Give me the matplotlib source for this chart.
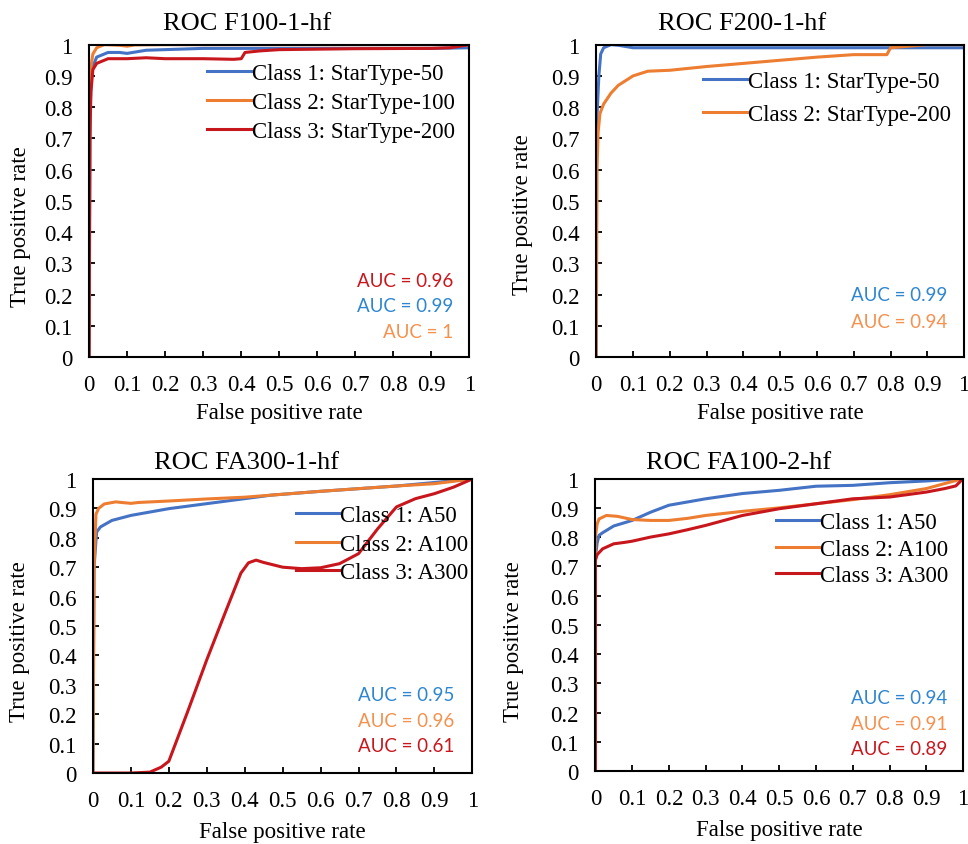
import matplotlib.pyplot as plt

plt.rcParams["font.family"] = ["Liberation Serif", "DejaVu Serif"]

BLUE = "#4472C4"
ORANGE = "#ED7D31"
RED = "#C8161D"
AUC_BLUE = "#2E86D1"
AUC_ORANGE = "#F4914E"
AUC_RED = "#C8161D"

# ---------------- ROC F100-1-hf ----------------
f100_blue_x = [0, 0.003, 0.006, 0.01, 0.02, 0.05, 0.08, 0.1, 0.15, 0.3, 0.6, 0.9, 1.0]
f100_blue_y = [0, 0.8, 0.9, 0.93, 0.96, 0.975, 0.975, 0.972, 0.982, 0.988, 0.988, 0.988, 0.99]
f100_orange_x = [0, 0.002, 0.005, 0.01, 0.02, 0.04, 0.08, 0.1, 0.12, 0.2, 1.0]
f100_orange_y = [0, 0.8, 0.93, 0.97, 0.99, 1.0, 0.998, 0.995, 0.999, 1.0, 1.0]
f100_red_x = [0, 0.002, 0.005, 0.01, 0.02, 0.05, 0.1, 0.15, 0.2, 0.3, 0.38, 0.4,
              0.41, 0.45, 0.5, 0.7, 0.9, 0.95, 1.0]
f100_red_y = [0, 0.7, 0.85, 0.92, 0.94, 0.955, 0.955, 0.958, 0.955, 0.955, 0.953, 0.955,
              0.975, 0.98, 0.984, 0.987, 0.988, 0.99, 1.0]
f100_labels = ["Class 1: StarType-50", "Class 2: StarType-100", "Class 3: StarType-200"]
f100_auc = ["AUC = 0.96", "AUC = 0.99", "AUC = 1"]

# ---------------- ROC F200-1-hf ----------------
f200_blue_x = [0, 0, 0.003, 0.007, 0.012, 0.02, 0.04, 0.06, 0.1, 0.2, 1.0]
f200_blue_y = [0, 0.72, 0.8, 0.9, 0.97, 0.99, 1.0, 0.998, 0.99, 0.99, 0.99]
f200_orange_x = [0, 0.002, 0.005, 0.01, 0.02, 0.04, 0.06, 0.1, 0.14, 0.2, 0.3, 0.4,
                 0.5, 0.6, 0.7, 0.79, 0.8, 0.85, 0.9, 1.0]
f200_orange_y = [0, 0.6, 0.72, 0.78, 0.81, 0.845, 0.87, 0.9, 0.915, 0.918, 0.93, 0.94,
                 0.95, 0.96, 0.968, 0.968, 0.99, 0.995, 1.0, 1.0]
f200_labels = ["Class 1: StarType-50", "Class 2: StarType-200"]
f200_auc = ["AUC = 0.99", "AUC = 0.94"]

# ---------------- ROC FA300-1-hf ----------------
fa300_blue_x = [0, 0.003, 0.008, 0.01, 0.02, 0.05, 0.1, 0.2, 0.3, 0.4, 0.47, 0.6, 0.8, 1.0]
fa300_blue_y = [0, 0.7, 0.79, 0.82, 0.837, 0.859, 0.876, 0.899, 0.916, 0.933, 0.945, 0.958, 0.976, 1.0]
fa300_orange_x = [0, 0.003, 0.008, 0.015, 0.03, 0.06, 0.1, 0.12, 0.2, 0.3, 0.4, 0.5,
                  0.6, 0.7, 0.8, 0.9, 1.0]
fa300_orange_y = [0, 0.7, 0.88, 0.9, 0.915, 0.922, 0.917, 0.92, 0.925, 0.932, 0.938, 0.948,
                  0.958, 0.967, 0.976, 0.984, 1.0]
fa300_red_x = [0, 0.1, 0.15, 0.18, 0.2, 0.25, 0.3, 0.35, 0.39, 0.41, 0.43, 0.45, 0.5,
               0.55, 0.6, 0.65, 0.7, 0.75, 0.8, 0.85, 0.9, 0.95, 1.0]
fa300_red_y = [0, 0, 0.003, 0.02, 0.04, 0.21, 0.385, 0.55, 0.68, 0.715, 0.724, 0.716, 0.7,
               0.695, 0.698, 0.712, 0.746, 0.83, 0.905, 0.933, 0.95, 0.972, 1.0]
fa300_labels = ["Class 1: A50", "Class 2: A100", "Class 3: A300"]
fa300_auc = ["AUC = 0.95", "AUC = 0.96", "AUC = 0.61"]

# ---------------- ROC FA100-2-hf ----------------
fa100_blue_x = [0, 0, 0.005, 0.01, 0.02, 0.05, 0.1, 0.15, 0.2, 0.25, 0.3, 0.4, 0.5,
                0.6, 0.7, 0.8, 0.9, 1.0]
fa100_blue_y = [0, 0.73, 0.78, 0.806, 0.815, 0.838, 0.857, 0.885, 0.909, 0.92, 0.931, 0.949,
                0.96, 0.974, 0.977, 0.986, 0.992, 1.0]
fa100_orange_x = [0, 0, 0.005, 0.01, 0.03, 0.06, 0.1, 0.15, 0.2, 0.25, 0.3, 0.4, 0.5,
                  0.6, 0.7, 0.8, 0.9, 0.97, 1.0]
fa100_orange_y = [0, 0.8, 0.845, 0.862, 0.874, 0.871, 0.86, 0.857, 0.857, 0.864, 0.874, 0.888,
                  0.9, 0.914, 0.928, 0.945, 0.966, 0.99, 1.0]
fa100_red_x = [0, 0, 0.005, 0.02, 0.05, 0.08, 0.1, 0.15, 0.2, 0.25, 0.3, 0.4, 0.5,
               0.6, 0.7, 0.8, 0.9, 0.95, 0.98, 1.0]
fa100_red_y = [0, 0.72, 0.74, 0.76, 0.777, 0.782, 0.786, 0.8, 0.811, 0.825, 0.84, 0.874,
               0.897, 0.914, 0.931, 0.937, 0.954, 0.966, 0.975, 1.0]
fa100_labels = ["Class 1: A50", "Class 2: A100", "Class 3: A300"]
fa100_auc = ["AUC = 0.94", "AUC = 0.91", "AUC = 0.89"]

ticks = [i / 10 for i in range(11)]
tick_labels = ["0"] + [f"{t:.1f}" for t in ticks[1:-1]] + ["1"]


def style_axes(ax, title, title_x, title_y, ylab_x, ylab_y, xlab_y):
    ax.set_xlim(0, 1)
    ax.set_ylim(0, 1)
    ax.set_xticks(ticks)
    ax.set_yticks(ticks)
    ax.set_xticklabels(tick_labels)
    ax.set_yticklabels(tick_labels)
    ax.tick_params(axis="x", direction="in", length=4.5, width=1.3, labelsize=16.5, pad=12)
    ax.tick_params(axis="y", direction="in", length=4.5, width=1.3, labelsize=16.5, pad=12)
    for sp in ax.spines.values():
        sp.set_linewidth(1.5)
        sp.set_color("black")
    ax.text(title_x, title_y, title, transform=ax.transAxes, ha="center",
            va="center", fontsize=19)
    ax.text(ylab_x, ylab_y, "True positive rate", transform=ax.transAxes,
            rotation=90, ha="center", va="center", fontsize=16.5)
    ax.text(0.5, xlab_y, "False positive rate", transform=ax.transAxes,
            ha="center", va="center", fontsize=16.5)


def add_auc(ax, texts, colors, x, ys):
    for t, c, y in zip(texts, colors, ys):
        ax.text(x, y, t, transform=ax.transAxes, ha="right", va="center",
                fontsize=13.5, color=c, family=["Lato", "DejaVu Sans"])


def add_legend(ax, x, y, spacing):
    ax.legend(loc="upper left", bbox_to_anchor=(x, y), frameon=False,
              fontsize=16.5, handlelength=1.9, handletextpad=0.05,
              borderpad=0, borderaxespad=0, labelspacing=spacing)


fig = plt.figure(figsize=(9.68, 8.45), dpi=100)

lw = 2.2

# Panel 1
ax1 = fig.add_axes([0.092, 0.576, 0.393, 0.370])
ax1.plot(f100_blue_x, f100_blue_y, color=BLUE, lw=lw, label=f100_labels[0])
ax1.plot(f100_orange_x, f100_orange_y, color=ORANGE, lw=lw, label=f100_labels[1])
ax1.plot(f100_red_x, f100_red_y, color=RED, lw=lw, label=f100_labels[2])
style_axes(ax1, "ROC F100-1-hf", 0.416, 1.07, -0.18, 0.42, -0.176)
add_legend(ax1, 0.31, 0.94, 0.34)
add_auc(ax1, f100_auc, [AUC_RED, AUC_BLUE, AUC_ORANGE], 0.958, [0.246, 0.166, 0.083])

# Panel 2
ax2 = fig.add_axes([0.616, 0.576, 0.380, 0.370])
ax2.plot(f200_blue_x, f200_blue_y, color=BLUE, lw=lw, label=f200_labels[0])
ax2.plot(f200_orange_x, f200_orange_y, color=ORANGE, lw=lw, label=f200_labels[1])
style_axes(ax2, "ROC F200-1-hf", 0.397, 1.07, -0.2, 0.46, -0.176)
add_legend(ax2, 0.29, 0.917, 0.53)
add_auc(ax2, f200_auc, [AUC_BLUE, AUC_ORANGE], 0.954, [0.201, 0.115])

# Panel 3
ax3 = fig.add_axes([0.096, 0.084, 0.392, 0.348])
ax3.plot(fa300_blue_x, fa300_blue_y, color=BLUE, lw=lw, label=fa300_labels[0])
ax3.plot(fa300_orange_x, fa300_orange_y, color=ORANGE, lw=lw, label=fa300_labels[1])
ax3.plot(fa300_red_x, fa300_red_y, color=RED, lw=lw, label=fa300_labels[2])
style_axes(ax3, "ROC FA300-1-hf", 0.406, 1.058, -0.193, 0.45, -0.2)
add_legend(ax3, 0.534, 0.91, 0.31)
add_auc(ax3, fa300_auc, [AUC_BLUE, AUC_ORANGE, AUC_RED], 0.952, [0.266, 0.178, 0.093])

# Panel 4
ax4 = fig.add_axes([0.615, 0.0864, 0.380, 0.346])
ax4.plot(fa100_blue_x, fa100_blue_y, color=BLUE, lw=lw, label=fa100_labels[0])
ax4.plot(fa100_orange_x, fa100_orange_y, color=ORANGE, lw=lw, label=fa100_labels[1])
ax4.plot(fa100_red_x, fa100_red_y, color=RED, lw=lw, label=fa100_labels[2])
style_axes(ax4, "ROC FA100-2-hf", 0.39, 1.058, -0.223, 0.445, -0.2)
add_legend(ax4, 0.49, 0.885, 0.23)
add_auc(ax4, fa100_auc, [AUC_BLUE, AUC_ORANGE, AUC_RED], 0.957, [0.251, 0.163, 0.077])

fig.savefig("out.png", dpi=100)
